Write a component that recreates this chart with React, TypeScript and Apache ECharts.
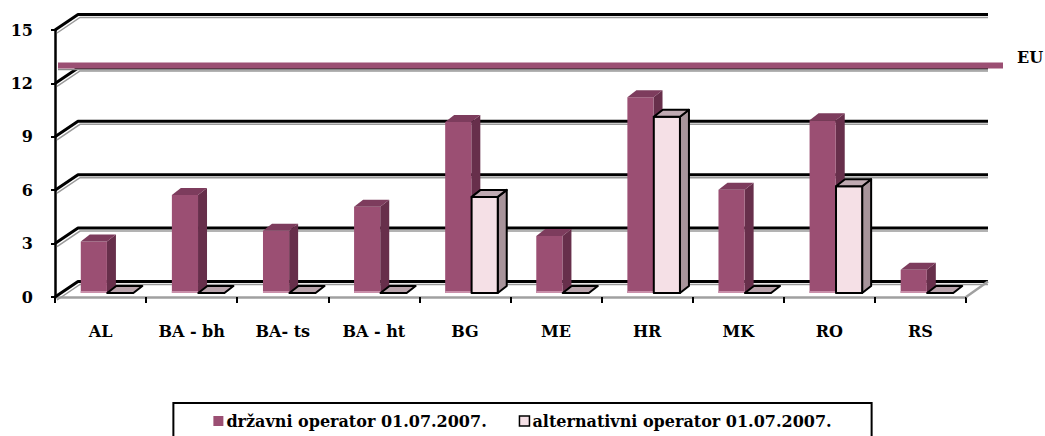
import React, { useEffect, useRef } from "react";
import * as echarts from "echarts";

const categories = ["AL", "BA - bh", "BA- ts", "BA - ht", "BG", "ME", "HR", "MK", "RO", "RS"];
const drzavniOperator = [2.9, 5.5, 3.5, 4.85, 9.6, 3.2, 11.0, 5.8, 9.7, 1.3];
const alternativniOperator = [0, 0, 0, 0, 5.4, 0, 9.9, 0, 6.0, 0];
const euValue = 13;
const yTicks = [0, 3, 6, 9, 12, 15];
const seriesNames = ["državni operator 01.07.2007.", "alternativni operator 01.07.2007."];

const FONT = "DejaVu Serif";
const DEPTH_X = 23;
const DEPTH_Y = -15.5;
const BAR_DX = 9;
const BAR_DY = -7;

const palettes = [
  { front: "#9B4F73", side: "#672F4B", top: "#7D3C5D", stroke: null as string | null },
  { front: "#F5E0E6", side: "#A8949B", top: "#C0AAB2", stroke: "#000000" },
];

function makeBarRender(si: number) {
  return (params: any, api: any) => {
    const idx = api.value(0);
    const v = api.value(1);
    const [cx, yTop] = api.coord([idx, v]);
    const y0 = api.coord([idx, 0])[1];
    const cw = api.size([1, 0])[0];
    const start = cx - cw / 2;
    const x0 = start + (si === 0 ? 0.283 : 0.573) * cw;
    const w = 0.287 * cw;
    const base = y0 - 4;
    const top = yTop - 4;
    const p = palettes[si];
    const strokeStyle = p.stroke
      ? { stroke: p.stroke, lineWidth: 2, lineJoin: "round" }
      : { stroke: null };
    const children: any[] = [];
    if (v > 0) {
      children.push({
        type: "polygon",
        shape: { points: [[x0 + w, top], [x0 + w + BAR_DX, top + BAR_DY], [x0 + w + BAR_DX, base + BAR_DY], [x0 + w, base]] },
        style: { fill: p.side, ...strokeStyle },
      });
      children.push({
        type: "polygon",
        shape: { points: [[x0, top], [x0 + w, top], [x0 + w, base], [x0, base]] },
        style: { fill: p.front, ...strokeStyle },
      });
      if (!p.stroke) {
        children.push({
          type: "rect",
          shape: { x: x0, y: base - 2, width: w, height: 2 },
          style: { fill: "#C98FAA" },
        });
      }
      children.push({
        type: "polygon",
        shape: { points: [[x0, top], [x0 + BAR_DX, top + BAR_DY], [x0 + w + BAR_DX, top + BAR_DY], [x0 + w, top]] },
        style: { fill: p.top, ...strokeStyle },
      });
    } else {
      children.push({
        type: "polygon",
        shape: { points: [[x0, base], [x0 + BAR_DX, base + BAR_DY], [x0 + w + BAR_DX, base + BAR_DY], [x0 + w, base]] },
        style: { fill: "#B8A3AB", stroke: "#000", lineWidth: 2, lineJoin: "round" },
      });
    }
    return { type: "group", children };
  };
}

function gridRender(params: any, api: any) {
  const cs = params.coordSys;
  const v = api.value(1);
  const y = api.coord([0, v])[1];
  const gx = cs.x;
  const gw = cs.width;
  const children: any[] = [
    {
      type: "polyline",
      shape: { points: [[gx + 2, y + 3], [gx + DEPTH_X + 2, y + DEPTH_Y + 3], [gx + gw + DEPTH_X - 1, y + DEPTH_Y + 3]] },
      style: { stroke: "#9A9A9A", lineWidth: 1.5, fill: null },
    },
    {
      type: "polyline",
      shape: { points: [[gx, y], [gx + DEPTH_X, y + DEPTH_Y], [gx + gw + DEPTH_X - 1, y + DEPTH_Y]] },
      style: { stroke: "#000", lineWidth: 3, fill: null, lineJoin: "round" },
    },
  ];
  if (v === 0) {
    children.push({
      type: "line",
      shape: { x1: gx + gw, y1: y, x2: gx + gw + DEPTH_X - 1, y2: y + DEPTH_Y },
      style: { stroke: "#A0A0A0", lineWidth: 2.5 },
    });
  }
  return { type: "group", children };
}

function euRender(params: any, api: any) {
  const cs = params.coordSys;
  const y = api.coord([0, api.value(1)])[1];
  const gx = cs.x;
  const gw = cs.width;
  return {
    type: "group",
    children: [
      {
        type: "line",
        shape: { x1: gx + 3, y1: y + 4, x2: gx + gw + 22, y2: y + 4 },
        style: { stroke: "#8A8A8A", lineWidth: 1.5 },
      },
      {
        type: "line",
        shape: { x1: gx + 3, y1: y, x2: gx + gw + 37, y2: y },
        style: { stroke: "#9B4F73", lineWidth: 6 },
      },
      {
        type: "text",
        x: gx + gw + 51,
        y: y - 8,
        style: {
          text: "EU",
          fill: "#000",
          fontFamily: FONT,
          fontWeight: "bold",
          fontSize: 16,
          verticalAlign: "middle",
          align: "left",
        },
      },
    ],
  };
}

export default function App() {
  const ref = useRef<HTMLDivElement>(null);
  useEffect(() => {
    document.body.style.margin = "0";
    const chart = echarts.init(ref.current!, null, { renderer: "svg" });
    chart.setOption({
      animation: false,
      backgroundColor: "#ffffff",
      grid: { left: 55, top: 30, width: 911, height: 267 },
      xAxis: {
        type: "category",
        data: categories,
        boundaryGap: true,
        axisLine: { show: true, lineStyle: { color: "#A0A0A0", width: 2.5 } },
        axisTick: { show: true, length: 6, lineStyle: { color: "#000", width: 2 } },
        axisLabel: {
          margin: 26,
          color: "#000",
          fontFamily: FONT,
          fontWeight: "bold",
          fontSize: 16,
        },
        splitLine: { show: false },
      },
      yAxis: {
        type: "value",
        min: 0,
        max: 15,
        interval: 3,
        axisLine: { show: true, lineStyle: { color: "#000", width: 2.5 } },
        axisTick: { show: true, length: 4, lineStyle: { color: "#000", width: 2 } },
        axisLabel: {
          margin: 22,
          color: "#000",
          fontFamily: FONT,
          fontWeight: "bold",
          fontSize: 16,
        },
        splitLine: { show: false },
      },
      legend: {
        left: "center",
        top: 403,
        padding: [10, 40, 40, 40],
        borderColor: "#000",
        borderWidth: 2,
        itemGap: 32,
        itemWidth: 10,
        itemHeight: 10,
        textStyle: { color: "#000", fontFamily: FONT, fontWeight: "bold", fontSize: 16, padding: [0, 0, 0, -2] },
        data: [
          { name: seriesNames[0], icon: "rect", itemStyle: { color: palettes[0].front, borderWidth: 0 } },
          { name: seriesNames[1], icon: "rect", itemStyle: { color: palettes[1].front, borderColor: "#000", borderWidth: 1.5 } },
        ],
      },
      series: [
        {
          type: "custom",
          name: "grid",
          z: 1,
          clip: false,
          silent: true,
          renderItem: gridRender,
          data: yTicks.map((t) => [0, t]),
        },
        {
          type: "custom",
          name: seriesNames[0],
          z: 3,
          clip: false,
          itemStyle: { color: palettes[0].front },
          renderItem: makeBarRender(0),
          data: drzavniOperator.map((v, i) => [i, v]),
        },
        {
          type: "custom",
          name: seriesNames[1],
          z: 4,
          clip: false,
          itemStyle: { color: palettes[1].front, borderColor: "#000" },
          renderItem: makeBarRender(1),
          data: alternativniOperator.map((v, i) => [i, v]),
        },
        {
          type: "custom",
          name: "EU",
          z: 5,
          clip: false,
          silent: true,
          renderItem: euRender,
          data: [[0, euValue]],
        },
      ],
    });
    return () => chart.dispose();
  }, []);
  return <div ref={ref} style={{ width: 1045, height: 436 }} />;
}
